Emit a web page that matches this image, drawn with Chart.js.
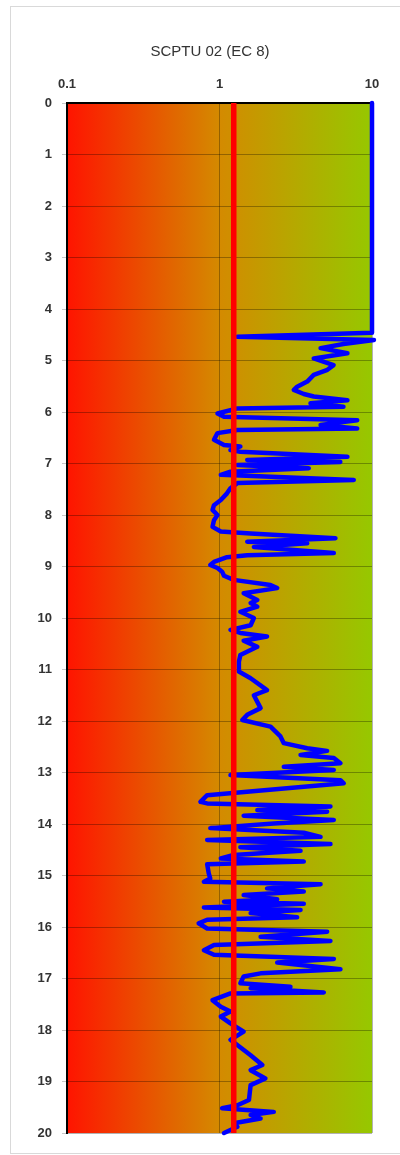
<!DOCTYPE html>
<html>
<head>
<meta charset="utf-8">
<title>SCPTU 02 (EC 8)</title>
<script src="https://cdn.jsdelivr.net/npm/chart.js@4.4.1/dist/chart.umd.min.js"></script>
<style>
  html, body { margin: 0; padding: 0; background: #fff; }
  #wrap { position: relative; width: 400px; height: 1155px; overflow: hidden; }
  #frame { position: absolute; left: 10px; top: 6px; width: 400px; height: 1146px; border: 1px solid #d9d9d9; border-right: none; }
  #chart { position: absolute; left: 0; top: 0; }
</style>
</head>
<body>
<div id="wrap">
  <div id="frame"></div>
  <canvas id="chart" width="400" height="1155"></canvas>
</div>
<script>
// depth (m) down the sounding, and the matching ratio
const depth = [
  0, 4.46, 4.54, 4.60, 4.68, 4.76, 4.86, 4.96, 5.09, 5.18, 5.28, 5.41, 5.51, 5.57, 5.65, 5.70, 5.77, 5.83, 5.90, 5.93,
  6.03, 6.09, 6.16, 6.25, 6.32, 6.35, 6.41, 6.54, 6.64, 6.67, 6.74, 6.77, 6.87, 6.93, 6.97, 7.03, 7.09, 7.16, 7.22, 7.32,
  7.38, 7.48, 7.58, 7.71, 7.81, 7.90, 8.00, 8.10, 8.23, 8.32, 8.36, 8.45, 8.52, 8.55, 8.62, 8.74, 8.78, 8.82, 8.91, 8.97,
  9.03, 9.10, 9.18, 9.26, 9.36, 9.42, 9.52, 9.65, 9.71, 9.78, 9.88, 10.00, 10.14, 10.23, 10.29, 10.36, 10.44, 10.56, 10.72, 10.85,
  11.04, 11.17, 11.40, 11.50, 11.75, 11.88, 11.98, 12.11, 12.30, 12.43, 12.53, 12.58, 12.66, 12.72, 12.82, 12.89, 12.95, 13.05, 13.15, 13.21,
  13.44, 13.57, 13.60, 13.66, 13.73, 13.76, 13.84, 13.92, 13.99, 14.08, 14.17, 14.25, 14.31, 14.39, 14.45, 14.52, 14.60, 14.67, 14.73, 14.78,
  14.96, 15.06, 15.12, 15.17, 15.25, 15.31, 15.38, 15.46, 15.51, 15.55, 15.62, 15.67, 15.73, 15.81, 15.86, 15.93, 16.03, 16.09, 16.19, 16.27,
  16.35, 16.45, 16.54, 16.62, 16.69, 16.82, 16.90, 16.96, 17.09, 17.16, 17.19, 17.27, 17.29, 17.42, 17.55, 17.64, 17.74, 17.87, 18.03, 18.19,
  18.49, 18.68, 18.78, 18.94, 19.07, 19.36, 19.46, 19.52, 19.59, 19.65, 19.72, 19.81, 19.88, 20.00
];
const ratio = [
  10.0, 10.0, 1.31, 10.3, 6.5, 4.6, 6.9, 4.15, 5.6, 5.1, 4.15, 3.76, 3.23, 3.07, 3.57, 4.15, 6.9, 3.95, 6.5, 1.31,
  0.97, 1.07, 8.0, 4.6, 8.0, 1.31, 0.97, 0.92, 1.07, 1.37, 1.18, 1.37, 6.9, 1.52, 6.2, 1.31, 3.85, 1.18, 1.02, 7.6,
  1.31, 1.18, 1.12, 1.02, 0.92, 0.90, 0.97, 0.92, 0.90, 1.02, 1.60, 5.76, 1.52, 3.76, 1.68, 5.62, 1.52, 1.12, 0.92, 0.87,
  0.97, 1.04, 1.07, 1.24, 2.16, 2.39, 1.44, 1.77, 1.60, 1.77, 1.37, 1.68, 1.60, 1.18, 1.37, 2.05, 1.44, 1.77, 1.37, 1.34,
  1.34, 1.60, 2.05, 1.68, 1.86, 1.52, 1.41, 2.16, 2.51, 2.64, 3.76, 5.08, 3.40, 5.62, 6.21, 2.64, 5.62, 1.18, 6.21, 6.53,
  0.83, 0.75, 0.83, 5.34, 1.77, 5.08, 1.44, 5.62, 2.27, 0.87, 3.57, 4.6, 0.83, 5.34, 1.37, 3.40, 1.24, 1.02, 3.57, 0.83,
  0.85, 0.87, 0.79, 4.6, 2.05, 3.57, 1.44, 2.39, 1.07, 3.57, 0.79, 3.40, 1.60, 3.23, 0.83, 0.73, 0.83, 5.08, 1.86, 5.34,
  0.92, 0.79, 0.92, 5.62, 2.39, 6.21, 1.86, 1.44, 1.37, 2.92, 1.60, 4.83, 1.18, 0.90, 1.02, 1.18, 1.02, 1.18, 1.44, 1.18,
  1.60, 1.91, 1.60, 2.0, 1.60, 1.56, 1.31, 1.04, 2.27, 1.60, 1.86, 1.24, 1.31, 1.07
];
const xTicks = [0.1, 1, 10];
const depthTicks = [0, 1, 2, 3, 4, 5, 6, 7, 8, 9, 10, 11, 12, 13, 14, 15, 16, 17, 18, 19, 20];
const limitValue = 1.24;

const labelFont = { family: '"Liberation Sans", Arial, sans-serif', size: 13, weight: 'bold' };

// red -> orange -> green fill behind the plot
const bgGradient = {
    id: 'bgGradient',
    beforeDraw(chart) {
        const { ctx, chartArea: a } = chart;
        const g = ctx.createLinearGradient(a.left, 0, a.right, 0);
        g.addColorStop(0, '#ff1400');
        g.addColorStop(0.5, '#d48a00');
        g.addColorStop(1, '#96c800');
        ctx.save();
        ctx.fillStyle = g;
        ctx.fillRect(a.left, a.top, a.right - a.left, a.bottom - a.top);
        ctx.restore();
    }
};

const ctx = document.getElementById('chart').getContext('2d');
new Chart(ctx, {
    type: 'scatter',
    data: {
        datasets: [{
            label: 'limit',
            data: [{ x: limitValue, y: depthTicks[0] }, { x: limitValue, y: depthTicks[depthTicks.length - 1] }],
            borderColor: '#ff0000',
            borderWidth: 5.5,
            pointRadius: 0,
            showLine: true,
            clip: false,
        }, {
            label: 'SCPTU 02',
            data: depth.map((d, i) => ({ x: ratio[i], y: d })),
            borderColor: '#0000ff',
            borderWidth: 4.5,
            borderJoinStyle: 'round',
            borderCapStyle: 'round',
            pointRadius: 0,
            showLine: true,
            tension: 0,
            clip: false,
        }]
    },
    options: {
        responsive: false,
        animation: false,
        devicePixelRatio: 1,
        layout: { padding: { left: 20, right: 0, top: 0, bottom: 22 } },
        plugins: {
            legend: { display: false },
            tooltip: { enabled: false },
            title: {
                display: true,
                text: 'SCPTU 02 (EC 8)',
                color: '#333',
                font: { family: labelFont.family, size: 15, weight: 'normal' },
                padding: { top: 43, bottom: 0 }
            }
        },
        scales: {
            x: {
                type: 'logarithmic',
                position: 'top',
                min: 0.1,
                max: 10,
                afterBuildTicks: s => { s.ticks = xTicks.map(v => ({ value: v })); },
                afterFit: s => { s.height = 42; },
                ticks: {
                    callback: v => String(v),
                    color: '#333',
                    font: labelFont,
                    padding: 11,
                    autoSkip: false,
                    maxRotation: 0
                },
                grid: { color: 'rgba(0, 0, 0, 0.3)', drawTicks: false },
                border: { color: '#000', width: 2 }
            },
            y: {
                type: 'linear',
                reverse: true,
                min: 0,
                max: 20,
                afterBuildTicks: s => { s.ticks = depthTicks.map(v => ({ value: v })); },
                afterFit: s => { s.width = 47; },
                ticks: {
                    color: '#333',
                    font: labelFont,
                    padding: 10
                },
                grid: { color: 'rgba(0, 0, 0, 0.3)', tickLength: 5, tickColor: '#c8c8c8' },
                border: { color: '#000', width: 2 }
            },
            // empty right-hand gutter so the plot ends at the same place as the original
            y2: {
                position: 'right',
                afterFit: s => { s.width = 28; },
                ticks: { display: false },
                grid: { display: false },
                border: { display: false }
            }
        }
    },
    plugins: [bgGradient]
});
</script>
</body>
</html>
